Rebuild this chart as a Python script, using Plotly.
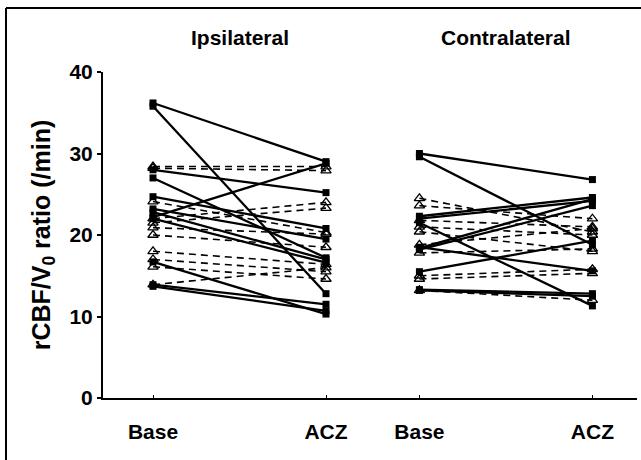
import plotly.graph_objects as go

# ---- data (rCBF/V0 ratio, /min) ----
tick_labels = ["Base", "ACZ", "Base", "ACZ"]
panel_titles = ["Ipsilateral", "Contralateral"]

ipsi_solid_base = [36.2, 35.8, 28.0, 27.0, 24.7, 23.2, 22.8, 22.2, 22.0, 16.7, 13.9, 13.7]
ipsi_solid_acz  = [29.0, 12.8, 25.2, 17.2, 20.8, 19.5, 17.0, 28.8, 16.6, 10.3, 11.5, 10.7]
ipsi_dash_base  = [28.4, 28.2, 24.1, 22.0, 21.5, 20.9, 20.0, 18.0, 17.0, 16.1, 13.9]
ipsi_dash_acz   = [28.4, 27.9, 20.3, 24.0, 23.3, 20.1, 18.5, 16.4, 15.5, 14.6, 16.0]

contra_solid_base = [30.0, 29.6, 22.3, 22.0, 18.4, 18.2, 21.5, 15.5, 18.5, 13.3, 13.2]
contra_solid_acz  = [26.8, 18.8, 24.6, 24.2, 24.4, 23.6, 11.3, 19.3, 15.6, 12.8, 12.5]
contra_dash_base  = [24.5, 23.6, 21.8, 21.0, 20.4, 18.8, 17.8, 15.0, 14.6, 13.2]
contra_dash_acz   = [20.4, 22.0, 21.0, 20.0, 18.0, 20.8, 18.3, 15.8, 15.3, 12.0]

# ---- layout constants ----
XPOS = [0.0, 1.0, 1.54, 2.54]
FONT = "Liberation Sans, Arial, sans-serif"

fig = go.Figure()

def add_pairs(base, acz, x0, x1, solid):
    for b, a in zip(base, acz):
        if solid:
            fig.add_trace(go.Scatter(
                x=[x0, x1], y=[b, a], mode="lines+markers",
                line=dict(color="black", width=2.3),
                marker=dict(symbol="square", size=7, color="black"),
                showlegend=False, hoverinfo="skip"))
        else:
            fig.add_trace(go.Scatter(
                x=[x0, x1], y=[b, a], mode="lines+markers",
                line=dict(color="black", width=1.6, dash="7px,5px"),
                marker=dict(symbol="triangle-up-open", size=9, color="black",
                            line=dict(width=1.3, color="black")),
                showlegend=False, hoverinfo="skip"))

# dashed first so solid lines sit on top
add_pairs(ipsi_dash_base, ipsi_dash_acz, XPOS[0], XPOS[1], False)
add_pairs(contra_dash_base, contra_dash_acz, XPOS[2], XPOS[3], False)
add_pairs(ipsi_solid_base, ipsi_solid_acz, XPOS[0], XPOS[1], True)
add_pairs(contra_solid_base, contra_solid_acz, XPOS[2], XPOS[3], True)

W, H = 641, 460
left_px, right_px = 103, 637
top_px, bot_px = 72, 398
x_unit = 173.0
x_lo = (left_px - 153) / x_unit
x_hi = (right_px - 153) / x_unit

fig.update_layout(
    width=W, height=H,
    margin=dict(l=0, r=0, t=0, b=0, autoexpand=False),
    paper_bgcolor="white", plot_bgcolor="white",
    font=dict(family=FONT, color="black"),
    xaxis=dict(
        domain=[left_px / W, right_px / W],
        range=[x_lo, x_hi], automargin=False,
        tickmode="array", tickvals=XPOS, ticktext=tick_labels,
        ticks="inside", ticklen=3, tickcolor="black", tickwidth=1,
        ticklabelstandoff=14,
        showline=True, linecolor="black", linewidth=2,
        showgrid=False, zeroline=False,
        tickfont=dict(family=FONT, size=21, color="black", weight="bold"),
    ),
    yaxis=dict(
        domain=[(H - bot_px) / H, (H - top_px) / H],
        range=[0, 40], automargin=False,
        tickmode="array", tickvals=[0, 10, 20, 30, 40],
        ticks="outside", ticklen=4, tickcolor="black", tickwidth=1.5,
        showline=True, linecolor="black", linewidth=2,
        showgrid=False, zeroline=False,
        tickfont=dict(family=FONT, size=21, color="black", weight="bold"),
        title=dict(text="rCBF/V<sub>0</sub> ratio (/min)", standoff=12,
                   font=dict(family=FONT, size=25, color="black", weight="bold")),
    ),
)

# panel titles
for i, t in enumerate(panel_titles):
    xc = (XPOS[2 * i] + XPOS[2 * i + 1]) / 2
    fig.add_annotation(x=xc, xref="x", y=(H - 38) / H, yref="paper",
                       yanchor="middle", text=t, showarrow=False,
                       font=dict(family=FONT, size=21, color="black", weight="bold"))

# outer frame (left and top edges visible in the original)
fig.add_shape(type="line", xref="paper", yref="paper",
              x0=6 / W, x1=6 / W, y0=0, y1=(H - 8) / H,
              line=dict(color="black", width=2))
fig.add_shape(type="line", xref="paper", yref="paper",
              x0=6 / W, x1=1, y0=(H - 8) / H, y1=(H - 8) / H,
              line=dict(color="black", width=2))

fig.write_html("out.html")
